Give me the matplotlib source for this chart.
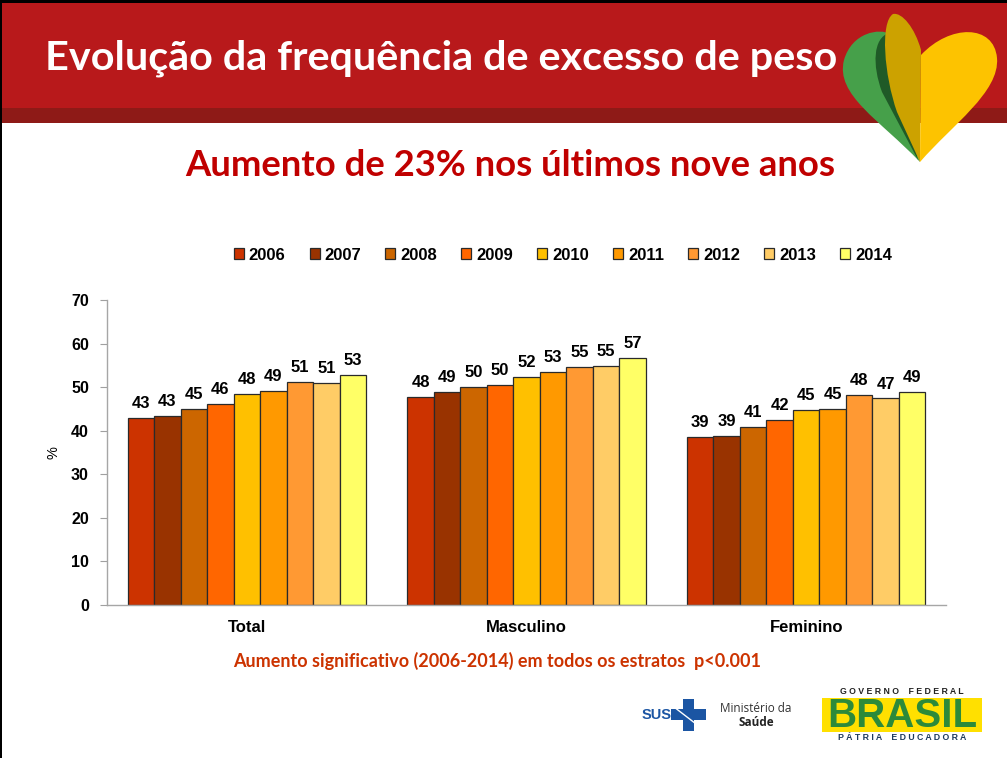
import matplotlib
matplotlib.use("Agg")
import matplotlib.pyplot as plt
import numpy as np
from matplotlib.patches import Rectangle, PathPatch
from matplotlib.path import Path

W, H = 1007, 758

# ---------------- data ----------------
categories = ["Total", "Masculino", "Feminino"]
years = ["2006", "2007", "2008", "2009", "2010", "2011", "2012", "2013", "2014"]
colors = ["#CC3300", "#993300", "#CC6600", "#FF6600", "#FFC000",
          "#FF9900", "#FF9933", "#FFCC66", "#FFFF66"]
total_vals = [42.9, 43.4, 44.9, 46.1, 48.4, 49.1, 51.1, 51.0, 52.7]
masc_vals = [47.7, 48.9, 50.0, 50.4, 52.4, 53.4, 54.7, 54.8, 56.6]
fem_vals = [38.6, 38.7, 40.8, 42.4, 44.7, 44.9, 48.2, 47.4, 49.0]
yticks = [0, 10, 20, 30, 40, 50, 60, 70]

title = "Evolução da frequência de excesso de peso"
subtitle = "Aumento de 23% nos últimos nove anos"
footnote = "Aumento significativo (2006-2014) em todos os estratos  p<0.001"

series = np.array([total_vals, masc_vals, fem_vals]).T  # rows = years

def px(x, y):
    return (x / W, 1 - y / H)

fig = plt.figure(figsize=(W / 100, H / 100), dpi=100)
fig.patch.set_facecolor("white")

# ---------------- header ----------------
fig.patches.append(Rectangle(px(0, 123), 1, 15 / H, transform=fig.transFigure,
                             facecolor="#8E1A17", edgecolor="none", zorder=0))
fig.patches.append(Rectangle(px(0, 108), 1, 105 / H, transform=fig.transFigure,
                             facecolor="#B8191B", edgecolor="none", zorder=0))
fig.patches.append(Rectangle(px(0, 3), 1, 3 / H, transform=fig.transFigure,
                             facecolor="black", edgecolor="none", zorder=1))
fig.patches.append(Rectangle((0, 0), 1.5 / W, 1, transform=fig.transFigure,
                             facecolor="black", edgecolor="none", zorder=1))

fig.text(*px(45, 58), title, color="white", fontsize=29.8, fontweight="bold",
         family="Lato", ha="left", va="center", zorder=3)

# heart logo
def pth(verts, codes, color, z):
    v = [px(x, y) for x, y in verts]
    p = PathPatch(Path(v, codes), transform=fig.transFigure, facecolor=color,
                  edgecolor="none", zorder=z)
    fig.patches.append(p)

M, C, L, Z = Path.MOVETO, Path.CURVE4, Path.LINETO, Path.CLOSEPOLY
# green lobe
pth([(920, 162), (880, 120), (835, 95), (844, 60), (852, 32), (880, 28), (890, 34), (905, 110), (920, 162)],
    [M, C, C, C, C, C, C, L, Z], "#46A04A", 4)
# dark green strip
pth([(889, 33), (873, 38), (872, 65), (882, 92), (918, 160), (905, 100), (889, 33)],
    [M, C, C, C, L, L, Z], "#1F5A27", 5)
# gold leaf
pth([(893, 14), (880, 22), (884, 75), (897, 112), (920, 162), (921, 50), (915, 28), (902, 12), (893, 14), (893, 14)],
    [M, C, C, C, L, L, C, C, C, Z], "#CCA200", 6)
# yellow lobe
pth([(920, 162), (952, 125), (1000, 92), (997, 58), (994, 24), (950, 24), (921, 55), (920, 162)],
    [M, C, C, C, C, C, C, Z], "#FDC300", 6)

fig.text(*px(510, 165), subtitle, color="#C00000", fontsize=26.3, fontweight="bold",
         family="Lato", ha="center", va="center")

# ---------------- chart ----------------
ax = fig.add_axes([107 / W, 1 - 605 / H, (946 - 107) / W, 305 / H])
x = np.arange(len(categories))
bw = 0.0947
n = len(years)
for i, (yr, col) in enumerate(zip(years, colors)):
    vals = series[i]
    bars = ax.bar(x + (i - (n - 1) / 2) * bw, vals, bw, color=col,
                  edgecolor="#2a2a2a", linewidth=0.9, label=yr, zorder=2)
    ax.bar_label(bars, labels=[f"{round(v)}" for v in vals], padding=5,
                 fontsize=12, fontweight="bold", family="Liberation Sans")

ax.set_xlim(-0.5, 2.5)
ax.set_ylim(0, 70)
ax.set_yticks(yticks)
ax.set_yticklabels([str(t) for t in yticks], fontsize=11.5, fontweight="bold",
                   family="Liberation Sans")
ax.set_xticks(x)
ax.set_xticklabels(categories, fontsize=12, fontweight="bold", family="Liberation Sans")
ax.tick_params(axis="x", length=0, pad=11)
ax.tick_params(axis="y", length=5, color="#A0A0A0", pad=8)
for s in ["top", "right"]:
    ax.spines[s].set_visible(False)
for s in ["left", "bottom"]:
    ax.spines[s].set_color("#A6A6A6")
    ax.spines[s].set_linewidth(1)
ax.set_ylabel("%", fontsize=10.5, family="Liberation Sans")
ax.yaxis.set_label_coords(-0.055, 0.5)

handles, labels = ax.get_legend_handles_labels()
leg = fig.legend(handles, labels, loc="center", bbox_to_anchor=px(563, 255), ncol=9,
                 frameon=False, handlelength=0.6, handleheight=0.6, handletextpad=0.3,
                 columnspacing=1.45, prop={"family": "Liberation Sans", "weight": "bold", "size": 12})

fig.text(*px(497, 661), footnote, color="#CC3300", fontsize=13, fontweight="bold",
         family="Lato", ha="center", va="center")

# ---------------- bottom logos ----------------
fig.text(*px(657, 715), "SUS", color="#1B55A3", fontsize=10.5, fontweight="bold",
         family="Liberation Sans", ha="center", va="center")
fig.patches.append(Rectangle(px(683, 731), 11 / W, 32 / H, transform=fig.transFigure,
                             facecolor="#1B55A3", edgecolor="none"))
fig.patches.append(Rectangle(px(671, 720), 35 / W, 11 / H, transform=fig.transFigure,
                             facecolor="#1B55A3", edgecolor="none"))
fig.add_artist(plt.Line2D([px(674, 0)[0], px(700, 0)[0]], [px(0, 707)[1], px(0, 727)[1]],
                          transform=fig.transFigure, color="white", lw=1))
fig.text(*px(756, 709), "Ministério da", color="#333333", fontsize=8.5,
         family="Open Sans", ha="center", va="center")
fig.text(*px(756, 722), "Saúde", color="#222222", fontsize=8.5, fontweight="bold",
         family="Open Sans", ha="center", va="center")

fig.patches.append(Rectangle(px(822, 732), 160 / W, 34 / H, transform=fig.transFigure,
                             facecolor="#FFE000", edgecolor="none"))
fig.text(*px(902, 716), "BRASIL", color="#2C8A3A", fontsize=29, fontweight="heavy",
         family="Liberation Sans", ha="center", va="center")
fig.text(*px(902, 692), "G O V E R N O    F E D E R A L", color="#222222", fontsize=6.3,
         fontweight="bold", family="Liberation Sans", ha="center", va="center")
fig.text(*px(902, 738), "P Á T R I A    E D U C A D O R A", color="#1F3B5C", fontsize=6.3,
         fontweight="bold", family="Liberation Sans", ha="center", va="center")

fig.savefig("out.png", dpi=100)
